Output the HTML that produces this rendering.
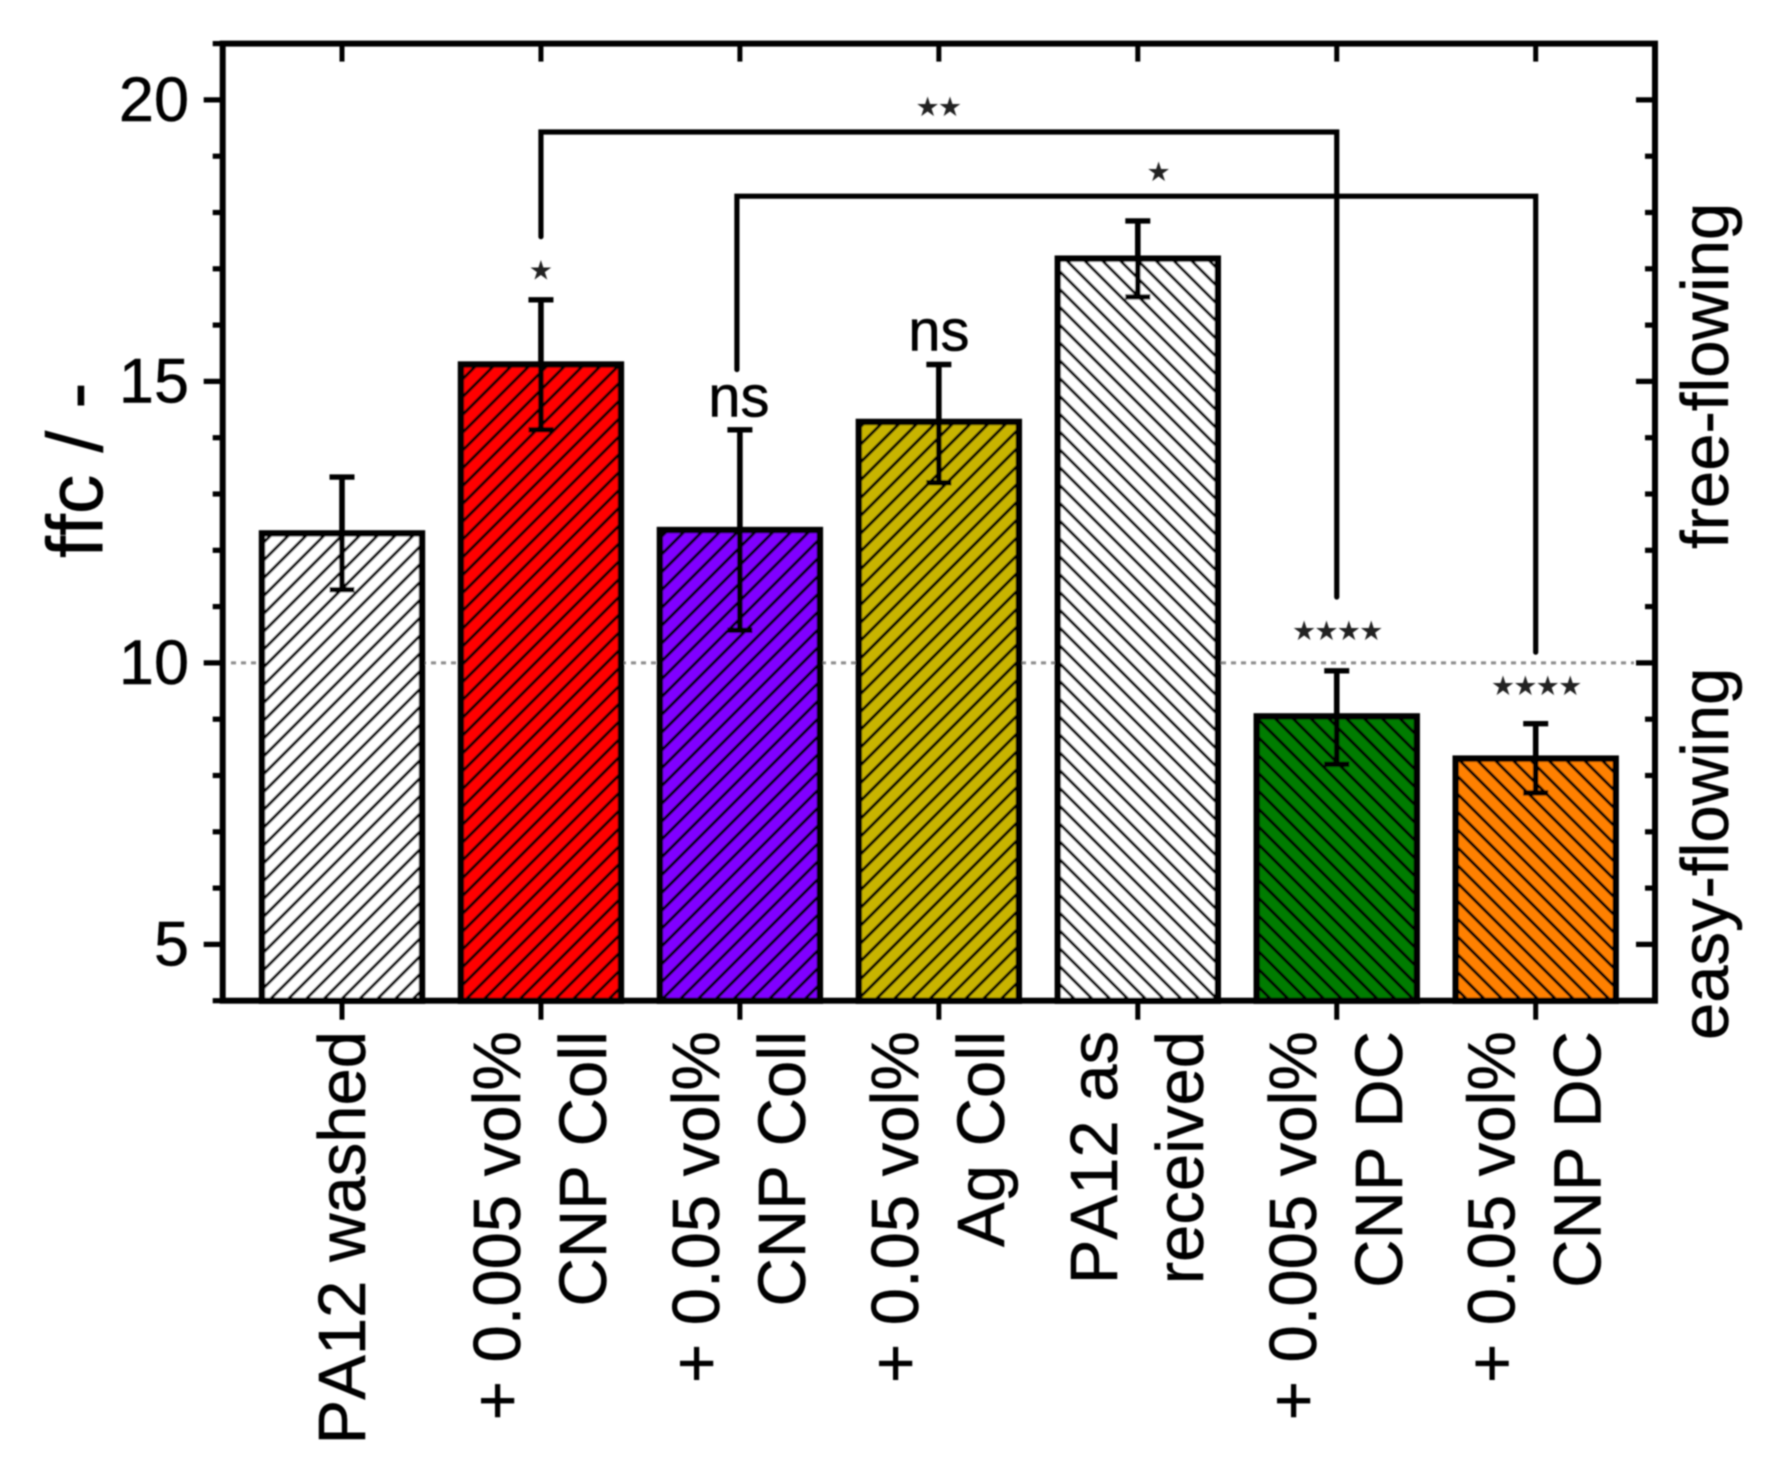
<!DOCTYPE html>
<html lang="en">
<head>
<meta charset="utf-8">
<title>ffc bar chart</title>
<style>
html,body{margin:0;padding:0;background:#fff;width:1782px;height:1479px;overflow:hidden}
svg{display:block}
text{font-family:"Liberation Sans",sans-serif;fill:#000;font-kerning:none;stroke:#000;stroke-width:.5px}
</style>
</head>
<body>
<svg id="chart" xmlns="http://www.w3.org/2000/svg" width="1782" height="1479" viewBox="0 0 1782 1479">
<defs>
<filter id="soft" x="-5%" y="-5%" width="110%" height="110%"><feGaussianBlur stdDeviation="0.8"/></filter>
<pattern id="hatch-up" patternUnits="userSpaceOnUse" width="12.6" height="12.6" patternTransform="rotate(45)"><line x1="3" y1="0" x2="3" y2="12.6" stroke="#000" stroke-width="3"/></pattern>
<pattern id="hatch-down" patternUnits="userSpaceOnUse" width="12.6" height="12.6" patternTransform="rotate(-45)"><line x1="3" y1="0" x2="3" y2="12.6" stroke="#000" stroke-width="3"/></pattern>
</defs>
<g id="root" filter="url(#soft)"></g>
</svg>
<script>
// ---- chart data ----
var categories = ["PA12 washed", "+ 0.005 vol%|CNP Coll", "+ 0.05 vol%|CNP Coll", "+ 0.05 vol%|Ag Coll", "PA12 as|received", "+ 0.005 vol%|CNP DC", "+ 0.05 vol%|CNP DC"];
var values = [12.3, 15.3, 12.36, 14.28, 17.18, 9.05, 8.3];
var errorHigh = [13.3, 16.45, 14.14, 15.3, 17.85, 9.86, 8.92];
var errorLow = [11.3, 14.14, 10.58, 13.2, 16.5, 8.2, 7.69];
var barColors = ["#ffffff", "#ff0000", "#8000ff", "#c8b400", "#ffffff", "#007c00", "#ff8000"];
var barHatches = ["hatch-up", "hatch-up", "hatch-up", "hatch-up", "hatch-down", "hatch-down", "hatch-down"];
var majorTicks = [5, 10, 15, 20];
var minorTicks = [4, 6, 7, 8, 9, 11, 12, 13, 14, 16, 17, 18, 19, 21];
var referenceLevel = 10;
// brackets: [from category, to category, level, left foot level, right foot level]
var brackets = [[1, 5, 19.43, 17.57, 11.17], [1.985, 6, 18.29, 15.21, 10.19]];
// annotation: [category position, value level of baseline, text]
var starNotes = [[0.995, 16.81, "★"], [2.995, 19.71, "★★"], [4.1, 18.56, "★"], [5, 10.41, "★★★★"], [6, 9.43, "★★★★"]];
var nsNotes = [[1.995, 14.38, "ns"], [3, 15.55, "ns"]];

// ---- axis functions ----
function yScale(v) { return 1000.7 - (v - 4) * 56.3; }
function xScale(i) { return 342 + i * 198.95; }

var NS = "http://www.w3.org/2000/svg";
var root = document.getElementById("root");
function mk(tag, parent) {
  var el = document.createElementNS(NS, tag);
  parent.appendChild(el);
  return el;
}
function line(parent, x1, y1, x2, y2, w) {
  var el = mk("line", parent);
  el.setAttribute("x1", x1);
  el.setAttribute("y1", y1);
  el.setAttribute("x2", x2);
  el.setAttribute("y2", y2);
  el.setAttribute("stroke", "#000");
  el.setAttribute("stroke-width", w);
  return el;
}
function label(parent, str, x, y, size, anchor, rotate) {
  var el = mk("text", parent);
  el.textContent = str;
  el.setAttribute("font-size", size);
  el.setAttribute("text-anchor", anchor);
  if (rotate) {
    el.setAttribute("transform", "translate(" + x + " " + y + ") rotate(-90)");
  } else {
    el.setAttribute("x", x);
    el.setAttribute("y", y);
  }
  return el;
}

var left = 222.7, right = 1655, top_ = yScale(21), bottom = yScale(4);

// reference line
var ref = line(root, 231, yScale(referenceLevel), 1634, yScale(referenceLevel), 3);
ref.setAttribute("stroke", "#8c8c8c");
ref.setAttribute("stroke-dasharray", "5 5");



// bars
var barWidth = 160;
values.forEach(function (v, i) {
  var g = mk("g", root);
  
  
  var x = xScale(i) - barWidth / 2, y = yScale(v), h = bottom - y;
  var fill = mk("rect", g);
  fill.setAttribute("x", x);
  fill.setAttribute("y", y);
  fill.setAttribute("width", barWidth);
  fill.setAttribute("height", h);
  fill.setAttribute("fill", barColors[i]);
  var hatch = mk("rect", g);
  hatch.setAttribute("x", x);
  hatch.setAttribute("y", y);
  hatch.setAttribute("width", barWidth);
  hatch.setAttribute("height", h);
  hatch.setAttribute("fill", "url(#" + barHatches[i] + ")");
  hatch.setAttribute("stroke", "#000");
  hatch.setAttribute("stroke-width", 6.4);
});

// error bars
errorHigh.forEach(function (hi, i) {
  var g = mk("g", root);
  
  
  var cx = xScale(i);
  line(g, cx, yScale(hi), cx, yScale(errorLow[i]), 5.6);
  line(g, cx - 12.5, yScale(hi), cx + 12.5, yScale(hi), 5.4);
  line(g, cx - 12.5, yScale(errorLow[i]), cx + 12.5, yScale(errorLow[i]), 5.4);
});

// significance brackets
brackets.forEach(function (b, i) {
  var path = mk("polyline", root);
  path.setAttribute("points",
    xScale(b[0]) + "," + yScale(b[3]) + " " +
    xScale(b[0]) + "," + yScale(b[2]) + " " +
    xScale(b[1]) + "," + yScale(b[2]) + " " +
    xScale(b[1]) + "," + yScale(b[4]));
  path.setAttribute("fill", "none");
  path.setAttribute("stroke", "#000");
  path.setAttribute("stroke-width", 5.2);
  path.setAttribute("stroke-linecap", "round");
  
  
});

// annotations
starNotes.forEach(function (n, i) {
  var t = label(root, n[2], xScale(n[0]), yScale(n[1]), 27, "middle", false);
  t.setAttribute("style", 'font-family:"DejaVu Sans",sans-serif;letter-spacing:-1.8px;fill:#222;stroke:none');
  
  
});
nsNotes.forEach(function (n, i) {
  var t = label(root, n[2], xScale(n[0]), yScale(n[1]), 58, "middle", false);
  
  
});

// axes frame
var frame = mk("rect", root);
frame.setAttribute("x", left);
frame.setAttribute("y", top_);
frame.setAttribute("width", right - left);
frame.setAttribute("height", bottom - top_);
frame.setAttribute("fill", "none");
frame.setAttribute("stroke", "#000");
frame.setAttribute("stroke-width", 6);



// y ticks
var yAxis = mk("g", root);


majorTicks.forEach(function (v) {
  var y = yScale(v);
  line(yAxis, left - 19, y, left, y, 5.2);
  line(yAxis, right - 19, y, right, y, 5.2);
  var t = label(yAxis, String(v), 189, y + 21, 63, "end", false);
  
  
});
minorTicks.forEach(function (v) {
  var y = yScale(v);
  line(yAxis, left - 10, y, left, y, 5.2);
  if (v !== 4 && v !== 21) line(yAxis, right - 10, y, right, y, 5.2);
});

// x ticks and labels
var xAxis = mk("g", root);


categories.forEach(function (c, i) {
  var cx = xScale(i);
  line(xAxis, cx, top_, cx, top_ + 18, 5);
  line(xAxis, cx, bottom, cx, bottom + 19, 5);
  var rows = c.split("|");
  rows.forEach(function (row, r) {
    var base = rows.length === 1 ? cx + 23 : cx - 21 + r * 86;
    var t = label(xAxis, row, base, 1031, 67, "end", true);
    
    
  });
});

// axis titles
var yTitle = label(root, "ffc / -", 102, 558, 79, "start", true);


var freeLabel = label(root, "free-flowing", 1728, 549, 67, "start", true);


var easyLabel = label(root, "easy-flowing", 1728, 1040, 67, "start", true);


</script>
</body>
</html>
